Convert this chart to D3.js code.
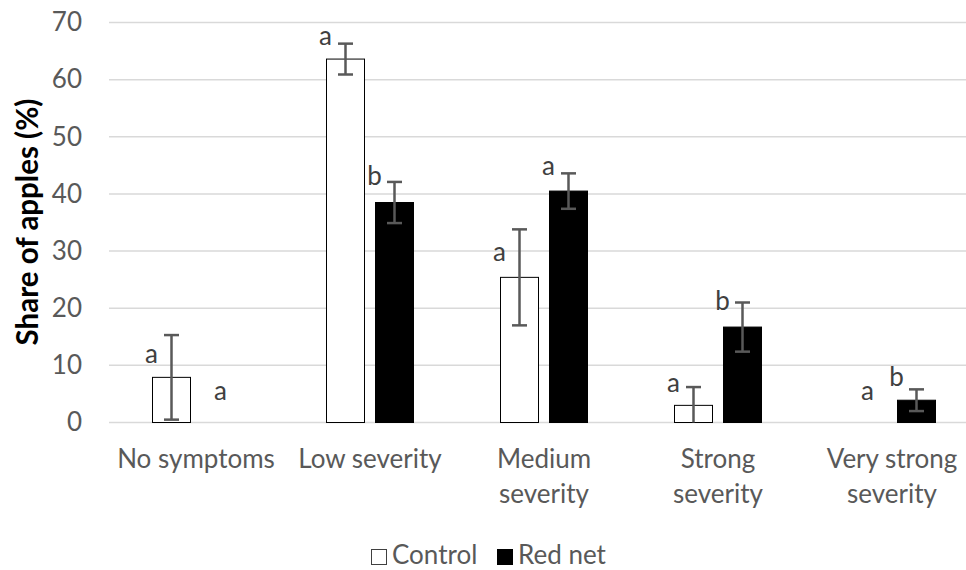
<!DOCTYPE html>
<html>
<head>
<meta charset="utf-8">
<script src="https://cdn.jsdelivr.net/npm/d3@7"></script>
<style>
  body { margin: 0; background: #fff; }
  svg { display: block; font-family: Lato, "Open Sans", sans-serif; }
</style>
</head>
<body>
<svg id="chart" width="966" height="570"></svg>
<script>
const categories = ["No symptoms", "Low severity", "Medium severity", "Strong severity", "Very strong severity"];
const categoryLines = [["No symptoms"], ["Low severity"], ["Medium", "severity"], ["Strong", "severity"], ["Very strong", "severity"]];
const series = ["Control", "Red net"];
const controlValues = [7.9, 63.6, 25.4, 3.0, 0];
const redNetValues = [0, 38.5, 40.5, 16.7, 3.9];
const controlErrors = [7.4, 2.7, 8.4, 3.2, 0];
const redNetErrors = [0, 3.6, 3.1, 4.3, 1.9];
const controlLetters = ["a", "a", "a", "a", "a"];
const redNetLetters = ["a", "b", "a", "b", "b"];
// height (in %) where each letter sits
const controlLetterAt = [10.4, 66, 28.3, 5.4, 3.9];
const redNetLetterAt = [3.9, 41.6, 43.4, 19.7, 6.4];
const yTicks = [0, 10, 20, 30, 40, 50, 60, 70];

const svg = d3.select("#chart");
const plot = { left: 109, right: 979, top: 22.5, bottom: 422.5 };
const fontSize = "26px";

const x = d3.scaleBand().domain(categories).range([plot.left, plot.right]);
const y = d3.scaleLinear().domain([0, 70]).range([plot.bottom, plot.top]);
const barW = 38;
const offsets = [-24.5, 24.5];

// gridlines
svg.append("g")
  .selectAll("line")
  .data(yTicks)
  .enter()
  .append("line")
  .attr("x1", plot.left)
  .attr("x2", plot.right)
  .attr("y1", d => y(d))
  .attr("y2", d => y(d))
  .attr("stroke", "#d9d9d9")
  .attr("stroke-width", 1.5);

// y axis labels
const yAxis = svg.append("g")
  .attr("transform", "translate(82,0)")
  .call(d3.axisLeft(y).tickValues(yTicks).tickSize(0).tickPadding(0));
yAxis.select(".domain").remove();
yAxis.selectAll("text")
  .attr("font-size", fontSize)
  .attr("fill", "#595959")
  .attr("font-family", "Lato, sans-serif");

svg.append("text")
  .attr("transform", "translate(38,222) rotate(-90)")
  .attr("text-anchor", "middle")
  .attr("font-size", "29.5px")
  .attr("font-weight", "bold")
  .attr("fill", "#000")
  .text("Share of apples (%)");

const rows = categories.map((c, i) => ({
  cat: c,
  bars: [
    { s: 0, v: controlValues[i], e: controlErrors[i], l: controlLetters[i], la: controlLetterAt[i] },
    { s: 1, v: redNetValues[i], e: redNetErrors[i], l: redNetLetters[i], la: redNetLetterAt[i] }
  ]
}));

const groups = svg.selectAll(".grp")
  .data(rows)
  .enter()
  .append("g")
  .attr("class", "grp")
  .attr("transform", d => `translate(${x(d.cat) + x.bandwidth() / 2},0)`);

const bars = groups.selectAll(".bar")
  .data(d => d.bars)
  .enter()
  .append("g")
  .attr("class", "bar");

bars.filter(d => d.v > 0)
  .append("rect")
  .attr("x", d => offsets[d.s] - barW / 2)
  .attr("y", d => y(d.v))
  .attr("width", barW)
  .attr("height", d => y(0) - y(d.v))
  .attr("fill", d => d.s === 0 ? "#fff" : "#000")
  .attr("stroke", "#000")
  .attr("stroke-width", 1);

const err = bars.filter(d => d.e > 0);
err.append("line")
  .attr("x1", d => offsets[d.s]).attr("x2", d => offsets[d.s])
  .attr("y1", d => y(d.v + d.e))
  .attr("y2", d => y(Math.max(0, d.v - d.e)))
  .attr("stroke", "#595959").attr("stroke-width", 2.5);
err.append("line")
  .attr("x1", d => offsets[d.s] - 7.5).attr("x2", d => offsets[d.s] + 7.5)
  .attr("y1", d => y(d.v + d.e)).attr("y2", d => y(d.v + d.e))
  .attr("stroke", "#595959").attr("stroke-width", 2.5);
err.filter(d => d.v - d.e > 0)
  .append("line")
  .attr("x1", d => offsets[d.s] - 7.5).attr("x2", d => offsets[d.s] + 7.5)
  .attr("y1", d => y(d.v - d.e)).attr("y2", d => y(d.v - d.e))
  .attr("stroke", "#595959").attr("stroke-width", 2.5);

bars.append("text")
  .attr("x", d => d.v > 0 ? offsets[d.s] - barW / 2 - 1 : offsets[d.s])
  .attr("y", d => y(d.la))
  .attr("text-anchor", "middle")
  .attr("font-size", fontSize)
  .attr("fill", "#404040")
  .text(d => d.l);

// category labels
groups.append("text")
  .attr("text-anchor", "middle")
  .attr("font-size", fontSize)
  .attr("fill", "#595959")
  .selectAll("tspan")
  .data((d, i) => categoryLines[i])
  .enter()
  .append("tspan")
  .attr("x", 0)
  .attr("y", (d, i) => 468 + i * 35)
  .text(d => d);

// legend
const legend = svg.append("g").attr("transform", "translate(371,549)");
const legendX = [0, 126];
series.forEach((s, i) => {
  legend.append("rect")
    .attr("x", legendX[i] + 0.5)
    .attr("y", 0.5)
    .attr("width", 15)
    .attr("height", 15)
    .attr("fill", i === 0 ? "#fff" : "#000")
    .attr("stroke", i === 0 ? "#404040" : "#000")
    .attr("stroke-width", 1);
  legend.append("text")
    .attr("x", legendX[i] + 21)
    .attr("y", 15)
    .attr("font-size", fontSize)
    .attr("fill", "#595959")
    .text(s);
});
</script>
</body>
</html>
